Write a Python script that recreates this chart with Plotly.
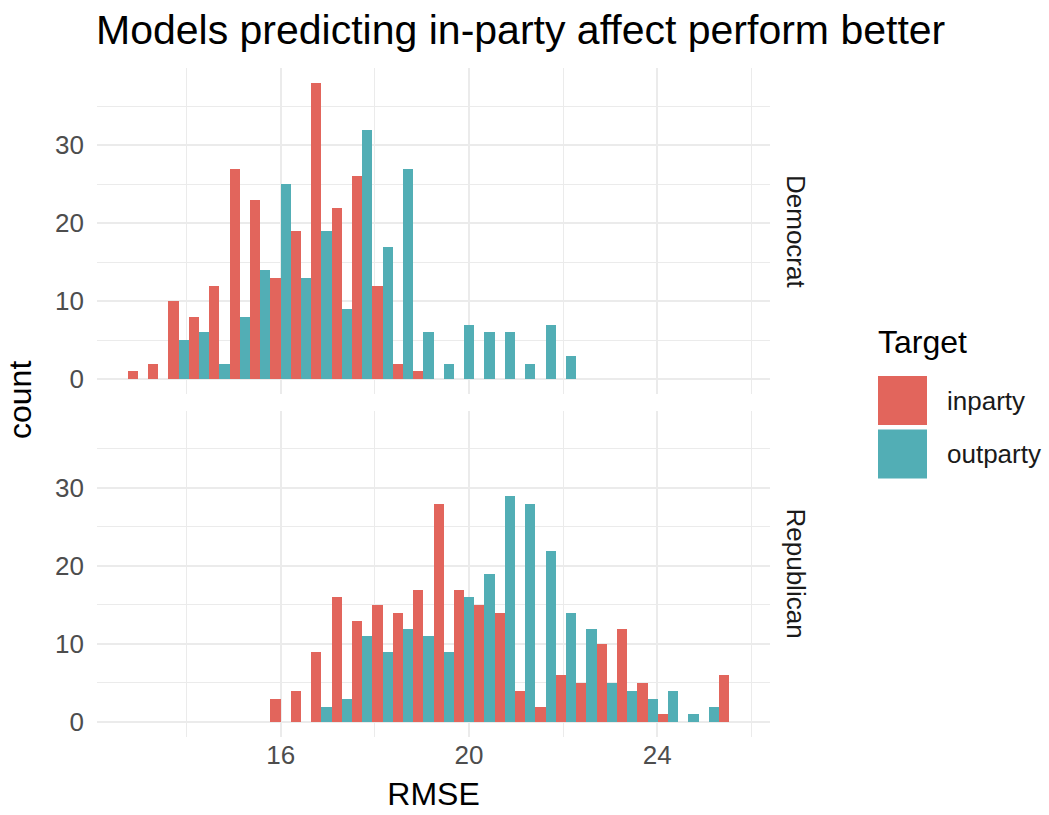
import numpy as np
import plotly.graph_objects as go
from plotly.subplots import make_subplots

# Histogram of RMSE (30 bins shared by both facets)
BIN_FIRST_CENTER = 12.964
BIN_WIDTH = 0.4333
N_BINS = 30

# counts per bin, by party of respondent and prediction target
dem_inparty = [1, 2, 10, 8, 12, 27, 23, 13, 19, 38, 22, 26, 12, 2, 1,
               0, 0, 0, 0, 0, 0, 0, 0, 0, 0, 0, 0, 0, 0, 0]
dem_outparty = [0, 0, 5, 6, 2, 8, 14, 25, 13, 19, 9, 32, 17, 27, 6,
                2, 7, 6, 6, 2, 7, 3, 0, 0, 0, 0, 0, 0, 0, 0]
rep_inparty = [0, 0, 0, 0, 0, 0, 0, 3, 4, 9, 16, 13, 15, 14, 17,
               28, 17, 15, 14, 4, 2, 6, 5, 10, 12, 5, 1, 0, 0, 6]
rep_outparty = [0, 0, 0, 0, 0, 0, 0, 0, 0, 2, 3, 11, 9, 12, 11,
                9, 16, 19, 29, 28, 22, 14, 12, 5, 4, 3, 4, 1, 2, 0]

facets = ["Democrat", "Republican"]
targets = ["inparty", "outparty"]
x_ticks = [16, 20, 24]
y_ticks = [0, 10, 20, 30]

COLORS = {"inparty": "#E2655C", "outparty": "#52AEB5"}
GRID = "#EBEBEB"
FONT = "Liberation Sans"
W, H = 1049, 815

centers = BIN_FIRST_CENTER + BIN_WIDTH * np.arange(N_BINS)
counts = {
    ("Democrat", "inparty"): dem_inparty,
    ("Democrat", "outparty"): dem_outparty,
    ("Republican", "inparty"): rep_inparty,
    ("Republican", "outparty"): rep_outparty,
}

fig = make_subplots(rows=2, cols=1, shared_xaxes=True)

for r, facet in enumerate(facets, start=1):
    for tgt in targets:
        fig.add_trace(
            go.Bar(
                x=centers,
                y=counts[(facet, tgt)],
                name=tgt,
                marker=dict(color=COLORS[tgt], line=dict(width=0)),
                offsetgroup=tgt,
                showlegend=False,
            ),
            row=r, col=1,
        )

# axis ranges with ggplot-style 5% expansion
lo = centers[0] - BIN_WIDTH / 2
hi = centers[-1] + BIN_WIDTH / 2
xpad = 0.05 * (hi - lo)
ymax = max(max(v) for v in counts.values())
ypad = 0.05 * ymax

# panel placement in pixels
px_left, px_right = 97, 770
top_panel = (68, 394)
bot_panel = (410.5, 736.5)


def ydom(p):
    return [1 - p[1] / H, 1 - p[0] / H]


TICK_SIZE = 26
TEXT_SIZE = 26
TITLE_SIZE = 32

xaxis_common = dict(
    range=[lo - xpad, hi + xpad],
    tickvals=x_ticks,
    showgrid=True, gridcolor=GRID, gridwidth=2,
    zeroline=False, showline=False, ticks="",
    minor=dict(tick0=14, dtick=4, showgrid=True, gridcolor=GRID, gridwidth=1),
    domain=[px_left / W, px_right / W],
    tickfont=dict(family=FONT, size=TICK_SIZE, color="#4D4D4D"),
)
yaxis_common = dict(
    range=[-ypad, ymax + ypad],
    tickvals=y_ticks,
    showgrid=True, gridcolor=GRID, gridwidth=2,
    zeroline=False, showline=False, ticks="",
    minor=dict(tick0=5, dtick=10, showgrid=True, gridcolor=GRID, gridwidth=1),
    tickfont=dict(family=FONT, size=TICK_SIZE, color="#4D4D4D"),
    ticklabelstandoff=12,
)

fig.update_xaxes(**xaxis_common)
fig.update_xaxes(showticklabels=False, row=1, col=1)
fig.update_xaxes(
    title=dict(text="RMSE", font=dict(family=FONT, size=TITLE_SIZE, color="black"),
               standoff=14),
    row=2, col=1,
)
fig.update_yaxes(**yaxis_common)
fig.update_yaxes(domain=ydom(top_panel), row=1, col=1)
fig.update_yaxes(domain=ydom(bot_panel), row=2, col=1)

annotations = []
# facet strip labels
for facet, p in zip(facets, [top_panel, bot_panel]):
    annotations.append(dict(
        text=facet, x=796 / W, y=1 - (p[0] + p[1]) / 2 / H,
        xref="paper", yref="paper", xanchor="center", yanchor="middle",
        textangle=90, showarrow=False,
        font=dict(family=FONT, size=TEXT_SIZE, color="#1A1A1A"),
    ))
# shared y-axis title
annotations.append(dict(
    text="count", x=20 / W, y=1 - 400 / H, xref="paper", yref="paper",
    xanchor="center", yanchor="middle", textangle=-90, showarrow=False,
    font=dict(family=FONT, size=TITLE_SIZE, color="black"),
))
# legend
annotations.append(dict(
    text="Target", x=876 / W, y=1 - 342 / H, xref="paper", yref="paper",
    xanchor="left", yanchor="middle", showarrow=False,
    font=dict(family=FONT, size=TITLE_SIZE, color="black"),
))
shapes = []
key_top = [376, 429.5]
for tgt, kt in zip(targets, key_top):
    shapes.append(dict(
        type="rect", xref="paper", yref="paper",
        x0=878 / W, x1=927 / W, y0=1 - (kt + 49) / H, y1=1 - kt / H,
        fillcolor=COLORS[tgt], line=dict(width=0),
    ))
    annotations.append(dict(
        text=tgt, x=945 / W, y=1 - (kt + 24.5) / H, xref="paper", yref="paper",
        xanchor="left", yanchor="middle", showarrow=False,
        font=dict(family=FONT, size=TEXT_SIZE, color="#1A1A1A"),
    ))

fig.update_layout(
    width=W, height=H,
    margin=dict(l=0, r=0, t=0, b=0),
    paper_bgcolor="white", plot_bgcolor="white",
    barmode="group", bargap=0, bargroupgap=0,
    title=dict(
        text="Models predicting in-party affect perform better",
        x=96 / W, xanchor="left", y=1 - 30 / H, yanchor="middle",
        font=dict(family=FONT, size=41, color="black"),
    ),
    annotations=annotations,
    shapes=shapes,
    showlegend=False,
)

fig.write_html("out.html")
